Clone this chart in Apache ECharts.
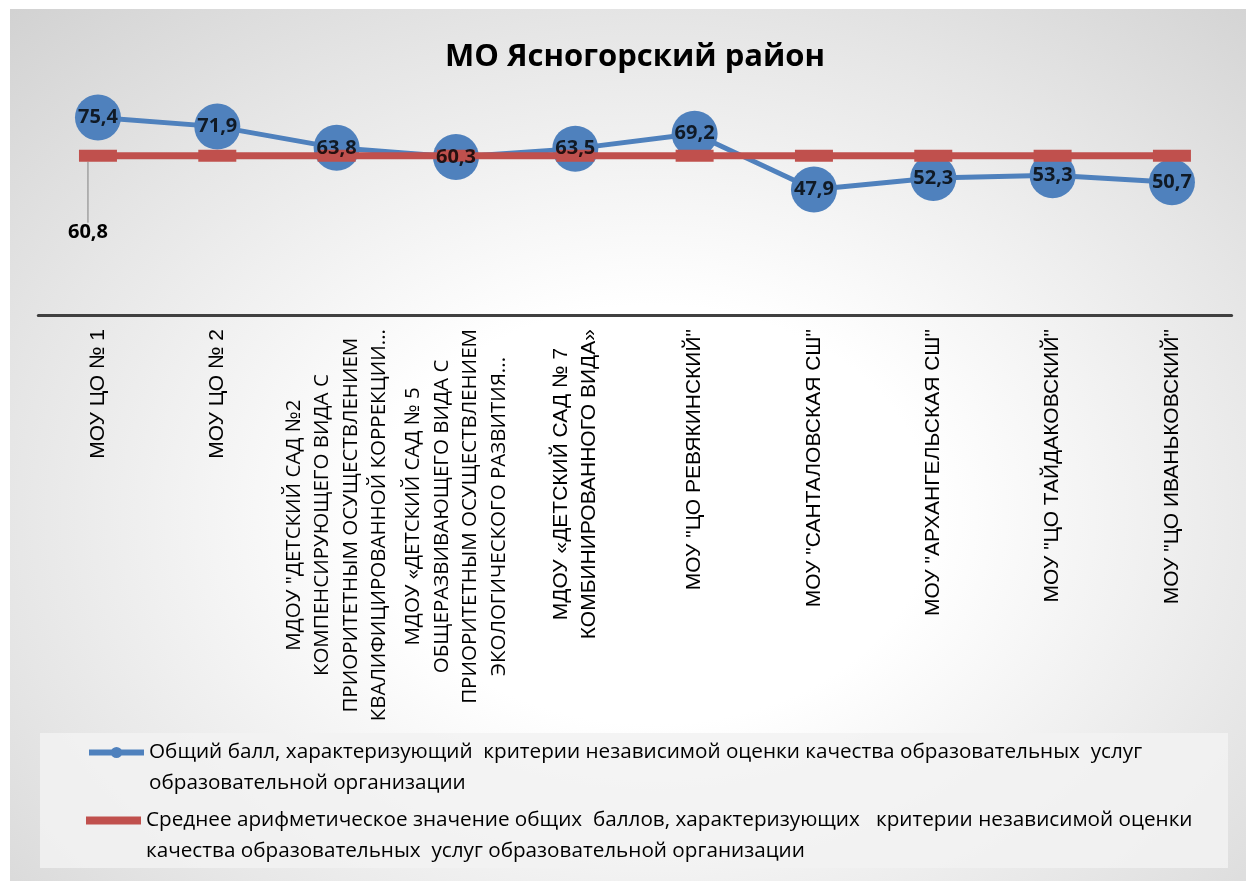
<!DOCTYPE html>
<html>
<head>
<meta charset="utf-8">
<script src="https://cdn.jsdelivr.net/npm/echarts@6/dist/echarts.min.js"></script>
<style>
html,body{margin:0;padding:0;background:#ffffff;width:1246px;height:881px;overflow:hidden;}
#c{position:absolute;left:10px;top:9px;width:1236px;height:872px;
background:radial-gradient(ellipse 75% 80% at 52% 58%, #ffffff 0%, #ffffff 30%, #e6e6e6 70%, #d2d2d2 100%);}
</style>
</head>
<body>
<div id="c"></div>
<script>
const titleText = 'МО Ясногорский район';
const categories = [
  'МОУ ЦО № 1',
  'МОУ ЦО № 2',
  'МДОУ "ДЕТСКИЙ САД №2\nКОМПЕНСИРУЮЩЕГО ВИДА С\nПРИОРИТЕТНЫМ ОСУЩЕСТВЛЕНИЕМ\nКВАЛИФИЦИРОВАННОЙ КОРРЕКЦИИ...',
  'МДОУ «ДЕТСКИЙ САД № 5\nОБЩЕРАЗВИВАЮЩЕГО ВИДА С\nПРИОРИТЕТНЫМ ОСУЩЕСТВЛЕНИЕМ\nЭКОЛОГИЧЕСКОГО РАЗВИТИЯ...',
  'МДОУ «ДЕТСКИЙ САД № 7\nКОМБИНИРОВАННОГО ВИДА»',
  'МОУ "ЦО РЕВЯКИНСКИЙ"',
  'МОУ "САНТАЛОВСКАЯ СШ"',
  'МОУ "АРХАНГЕЛЬСКАЯ СШ"',
  'МОУ "ЦО ТАЙДАКОВСКИЙ"',
  'МОУ "ЦО ИВАНЬКОВСКИЙ"'
];
const totalScores = [75.4, 71.9, 63.8, 60.3, 63.5, 69.2, 47.9, 52.3, 53.3, 50.7];
const meanScores = [60.8, 60.8, 60.8, 60.8, 60.8, 60.8, 60.8, 60.8, 60.8, 60.8];
const seriesNames = [
  'Общий балл, характеризующий  критерии независимой оценки качества образовательных  услуг\nобразовательной организации',
  'Среднее арифметическое значение общих  баллов, характеризующих   критерии независимой оценки\nкачества образовательных  услуг образовательной организации'
];

const fmt = v => String(v).replace('.', ',');
const BLUE = '#4F81BD', RED = '#C0504D';
const FONT = 'Open Sans';
const SANS = 'Liberation Sans';
const condensedLabelIdx = [2, 3];

const chart = echarts.init(document.getElementById('c'));
const legendText = {fontFamily: FONT, fontSize: 20.7, color: '#000', lineHeight: 31};
chart.setOption({
  animation: false,
  title: {
    text: titleText, left: 620, top: 28, textAlign: 'center',
    textStyle: {fontFamily: FONT, fontWeight: 'bold', fontSize: 31, color: '#000'}
  },
  graphic: [{
    type: 'rect', left: 30, top: 724, z: -1,
    shape: {width: 1188, height: 135},
    style: {fill: 'rgba(242,242,242,0.85)'}
  }],
  legend: [{
    data: [seriesNames[0]], left: 71, top: 692, orient: 'vertical',
    itemWidth: 55, itemHeight: 14, itemGap: 0,
    lineStyle: {width: 6},
    formatter: n => '\n' + n,
    textStyle: legendText
  }, {
    data: [{name: seriesNames[1], icon: 'rect'}], left: 71, top: 760, orient: 'vertical',
    itemWidth: 55, itemHeight: 8, itemGap: 0,
    formatter: n => '\n' + n,
    textStyle: legendText
  }],
  grid: {left: 28.3, top: 44, width: 1193.3, height: 262, containLabel: false},
  xAxis: {
    type: 'category', data: categories, boundaryGap: true,
    axisLine: {show: true, lineStyle: {color: '#404040', width: 3}},
    axisTick: {show: false},
    axisLabel: {
      interval: 0, rotate: 90, margin: 14, color: '#000',
      fontFamily: SANS, fontSize: 21, lineHeight: 28.5,
      formatter: (v, i) => {
        const k = condensedLabelIdx.indexOf(i) >= 0 ? 'o' : 'a';
        return v.split('\n').map(s => '{' + k + '|' + s + '}').join('\n');
      },
      rich: {
        a: {align: 'center', fontFamily: SANS, fontSize: 21, lineHeight: 28.5, color: '#000'},
        o: {align: 'center', fontFamily: FONT, fontSize: 20.5, lineHeight: 28.5, color: '#000'}
      }
    }
  },
  yAxis: {type: 'value', min: 0, max: 100, show: false, splitLine: {show: false}},
  series: [{
    name: seriesNames[0], type: 'line', data: totalScores, z: 2,
    symbol: 'circle', symbolSize: 46,
    lineStyle: {color: BLUE, width: 5},
    itemStyle: {color: BLUE},
    label: {show: false}
  }, {
    name: seriesNames[1], type: 'line', z: 3,
    data: meanScores.map((v, i) => i === 0 ? {
      value: v,
      label: {show: true, position: 'inside', formatter: p => fmt(p.value),
        fontFamily: FONT, fontWeight: 'bold', fontSize: 20, color: '#000'},
      labelLine: {show: true, lineStyle: {color: '#808080', width: 1}}
    } : v),
    symbol: 'rect', symbolSize: [38, 12],
    lineStyle: {color: RED, width: 7},
    itemStyle: {color: RED},
    labelLayout: {dx: -10, dy: 77},
    label: {show: false}
  }, {
    name: 'labels', type: 'scatter', data: totalScores, z: 4,
    symbol: 'circle', symbolSize: 46,
    itemStyle: {color: 'rgba(0,0,0,0)'},
    label: {show: true, position: 'inside', formatter: p => fmt(p.value),
      fontFamily: FONT, fontWeight: 'bold', fontSize: 20, color: '#000'}
  }]
});
</script>
</body>
</html>
